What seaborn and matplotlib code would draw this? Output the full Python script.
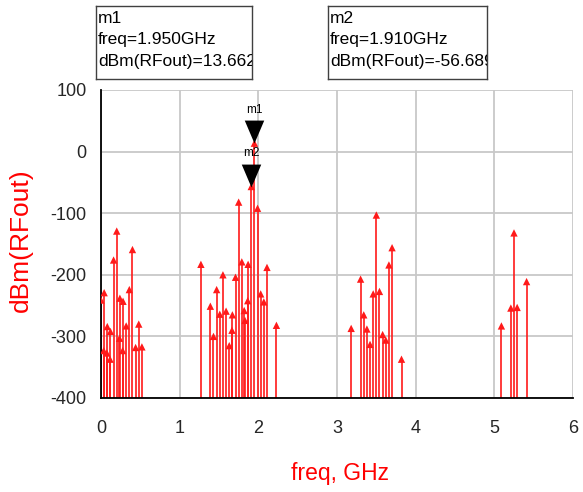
import matplotlib
matplotlib.use("Agg")
import matplotlib.pyplot as plt
from matplotlib.ticker import MultipleLocator
import seaborn as sns
import pandas as pd

# ---------------- data ----------------
freq_low = [0.00, 0.035, 0.04, 0.075, 0.08, 0.115, 0.12, 0.16, 0.20, 0.235, 0.24,
            0.275, 0.28, 0.32, 0.36, 0.40, 0.44, 0.48, 0.52]
dbm_low = [-241, -323, -229, -327, -284, -337, -292, -176, -129, -303, -238,
           -323, -243, -283, -224, -159, -318, -280, -317]

freq_mid = [1.27, 1.39, 1.43, 1.47, 1.51, 1.55, 1.59, 1.63, 1.665, 1.67, 1.71, 1.75,
            1.79, 1.82, 1.83, 1.865, 1.87, 1.91, 1.95, 1.99, 2.03, 2.07, 2.11, 2.23]
dbm_mid = [-183, -251, -300, -224, -264, -200, -259, -315, -290, -265, -204, -82,
           -179, -258, -274, -242, -183, -56.689, 13.662, -92, -231, -244, -188, -282]

freq_h2 = [3.18, 3.30, 3.34, 3.38, 3.42, 3.46, 3.50, 3.54, 3.58, 3.62, 3.66, 3.70, 3.82]
dbm_h2 = [-287, -207, -265, -288, -313, -231, -103, -227, -297, -306, -184, -156, -337]

freq_h3 = [5.09, 5.21, 5.25, 5.29, 5.41]
dbm_h3 = [-283, -254, -132, -253, -211]

marker_names = ["m1", "m2"]
marker_freq = [1.950, 1.910]
marker_dbm = [13.662, -56.689]

x_ticks = [0, 1, 2, 3, 4, 5, 6]
y_ticks = [-400, -300, -200, -100, 0, 100]

df = pd.DataFrame({
    "freq": freq_low + freq_mid + freq_h2 + freq_h3,
    "dbm": dbm_low + dbm_mid + dbm_h2 + dbm_h3,
})

# ---------------- style ----------------
sns.set_style("white")
plt.rcParams["font.family"] = ["Liberation Sans", "DejaVu Sans"]
plt.rcParams["axes.unicode_minus"] = False

RED = "#ff1a1a"

fig = plt.figure(figsize=(5.83, 4.92), dpi=100)
ax = fig.add_axes([101 / 583, 1 - 398 / 492, 472 / 583, 308 / 492])

ax.set_xlim(0, 6)
ax.set_ylim(-400, 100)

# grid
ax.set_xticks(x_ticks)
ax.set_yticks(y_ticks)
ax.xaxis.set_minor_locator(MultipleLocator(0.2))
ax.yaxis.set_minor_locator(MultipleLocator(50))
ax.grid(True, which="major", color="#c8c8c8", lw=1.3, zorder=0)
ax.set_axisbelow(True)

# stems
ax.vlines(df["freq"], -400, df["dbm"], color=RED, lw=1.2, zorder=2)
sns.scatterplot(data=df, x="freq", y="dbm", marker="^", s=28, color=RED,
                edgecolor="none", linewidth=0, ax=ax, zorder=3, legend=False)

# marker triangles (apex at the data point)
tri = [(0, 0), (-0.85, 2.0), (0.85, 2.0), (0, 0)]
for name, fx, fy in zip(marker_names, marker_freq, marker_dbm):
    ax.plot([fx], [fy], marker=tri, markersize=33, color="black",
            markeredgewidth=0, zorder=4, clip_on=False)
    ax.annotate(name, xy=(fx, fy), xytext=(0, 24), textcoords="offset points",
                ha="center", va="center", fontsize=8.5, color="black", zorder=5)

# spines
for s in ["top", "right"]:
    ax.spines[s].set_visible(False)
for s in ["left", "bottom"]:
    ax.spines[s].set_color("black")
    ax.spines[s].set_linewidth(1.3)

ax.tick_params(axis="x", which="major", direction="out", length=12, width=1.2,
               color="black", pad=4, labelsize=13)
ax.tick_params(axis="x", which="minor", direction="out", length=6.5, width=1.0,
               color="black")
ax.tick_params(axis="y", which="major", direction="out", length=10, width=1.2,
               color="black", pad=0.5, labelsize=13)
ax.tick_params(axis="y", which="minor", direction="out", length=5.8, width=1.0,
               color="black")
ax.set_xticklabels([str(t) for t in x_ticks])
ax.set_yticklabels([str(t) for t in y_ticks])

ax.set_xlabel("freq, GHz", color="red", fontsize=16.5, va="center")
ax.xaxis.set_label_coords(0.506, -0.245)
ax.set_ylabel("dBm(RFout)", color="red", fontsize=19, va="center")
ax.yaxis.set_label_coords(-0.169, 0.513)

# marker readout boxes
boxes = [
    (96, 6, 156, 73, ["m1", "freq=1.950GHz", "dBm(RFout)=13.662"]),
    (328, 6, 159, 73, ["m2", "freq=1.910GHz", "dBm(RFout)=-56.689"]),
]
for (bx, by, bw, bh, lines) in boxes:
    bax = fig.add_axes([bx / 583, 1 - (by + bh) / 492, bw / 583, bh / 492])
    bax.set_xticks([])
    bax.set_yticks([])
    bax.set_xlim(0, 1)
    bax.set_ylim(0, 1)
    for sp in bax.spines.values():
        sp.set_color("#404040")
        sp.set_linewidth(1.0)
    for txt, base in zip(lines, [17, 38, 60]):
        bax.text(2 / bw, (bh - base) / bh, txt, ha="left", va="baseline",
                 fontsize=12.5, color="black", clip_on=True)

fig.savefig("out.png", dpi=100)
